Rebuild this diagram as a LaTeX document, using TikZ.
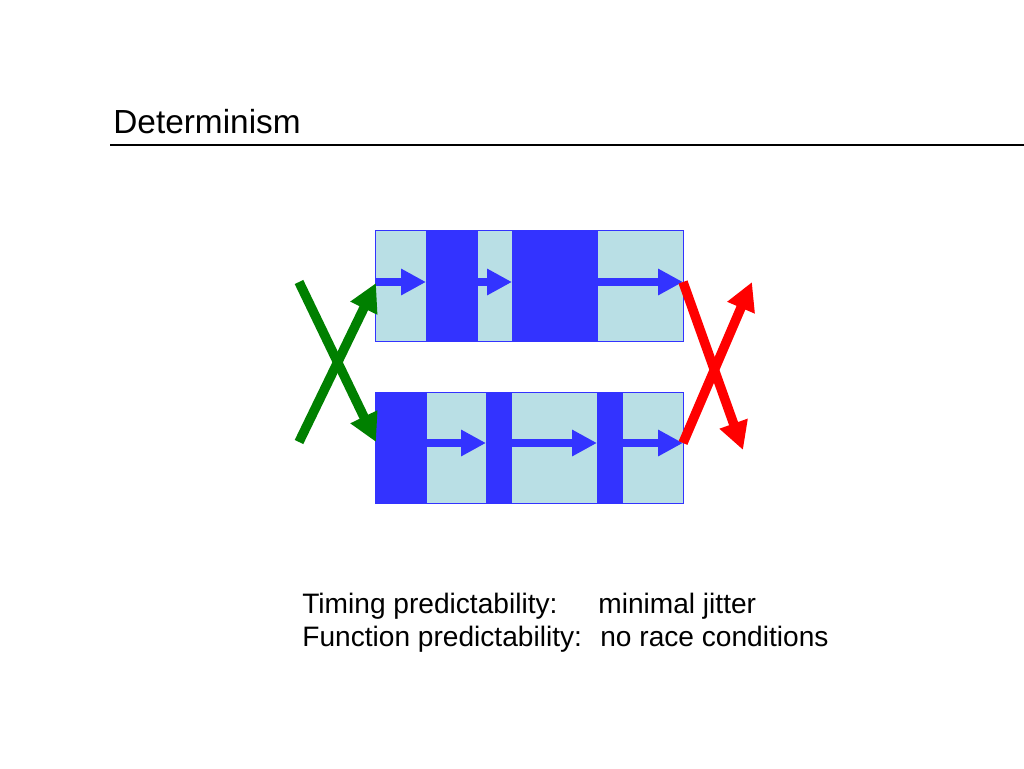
\documentclass[tikz,border=0pt]{standalone}
\usepackage{fontspec}
\setmainfont{Liberation Sans}
\usetikzlibrary{arrows.meta}
\definecolor{slotblue}{RGB}{51,51,255}
\definecolor{idlecyan}{RGB}{185,223,229}
\definecolor{okgreen}{RGB}{0,128,0}
\tikzset{
  task/.style={fill=slotblue},
  flow/.style={slotblue, line width=0.16cm, -{Triangle[length=0.5cm,width=0.5cm]}},
  swap/.style={line width=0.19cm, -{Triangle[length=0.56cm,width=0.56cm]}},
  label/.style={anchor=base west, font=\fontsize{16}{20}\selectfont, inner sep=0pt}
}
\begin{document}
\begin{tikzpicture}[x=0.02cm, y=-0.02cm, line join=miter]
  \useasboundingbox (0,0) rectangle (1024,768);

  % Titel
  \node[anchor=base west, font=\fontsize{19}{23}\selectfont, inner sep=0pt] (title) at (113,133) {Determinism};
  \draw[line width=1.6pt] (110,145) -- (1024,145);

  % Zwei Abläufe
  \fill[idlecyan] (375,230) rectangle (683,341);
  \fill[task] (426,230) rectangle (478,341);
  \fill[task] (512,230) rectangle (598,341);
  \draw[draw=slotblue, line width=0.5pt] (375,230) rectangle (683,341);

  \fill[idlecyan] (375,392) rectangle (683,503);
  \fill[task] (375,392) rectangle (427,503);
  \fill[task] (486,392) rectangle (512,503);
  \fill[task] (597,392) rectangle (623,503);
  \draw[draw=slotblue, line width=0.5pt] (375,392) rectangle (683,503);

  % Punkte der Pfeile
  \coordinate (t0) at (375,282);
  \coordinate (t1) at (426,282);
  \coordinate (t2) at (478,282);
  \coordinate (t3) at (512,282);
  \coordinate (t4) at (598,282);
  \coordinate (t5) at (683,282);
  \coordinate (b1) at (427,443);
  \coordinate (b2) at (486,443);
  \coordinate (b3) at (512,443);
  \coordinate (b4) at (597,443);
  \coordinate (b5) at (623,443);
  \coordinate (b6) at (683,443);

  \draw[flow] (t0) -- (t1);
  \draw[flow] (t2) -- (t3);
  \draw[flow] (t4) -- (t5);
  \draw[flow] (b1) -- (b2);
  \draw[flow] (b3) -- (b4);
  \draw[flow] (b5) -- (b6);

  % Eingang / Ausgang
  \coordinate (inTop) at (299,282);
  \coordinate (inBot) at (299,442);
  \coordinate (outTop) at (752,282);
  \coordinate (outBot) at (743,450);
  \draw[swap, okgreen] (inTop) -- (376,442);
  \draw[swap, okgreen] (inBot) -- (376,283);
  \draw[swap, red] (t5) -- (outBot);
  \draw[swap, red] (b6) -- (outTop);

  % Text
  \node[label] (timing) at (302,613) {Timing predictability:};
  \node[label] (jitter) at (598,613) {minimal jitter};
  \node[label] (function) at (302,646) {Function predictability:};
  \node[label] (race) at (600,646) {no race conditions};
\end{tikzpicture}
\end{document}
